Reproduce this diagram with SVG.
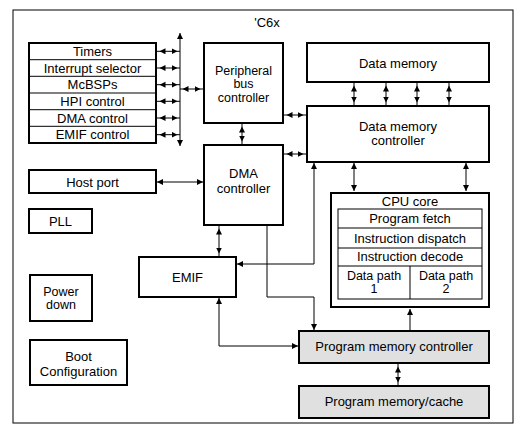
<svg xmlns="http://www.w3.org/2000/svg" width="531" height="435" viewBox="0 0 531 435">
<style>
text{font-family:"Liberation Sans",Arial,sans-serif;font-size:13px;fill:#000;text-anchor:middle}
.sm{font-size:12.5px}
.box{fill:#fff;stroke:#000;stroke-width:2}
.gbox{fill:#e0e0e0;stroke:#000;stroke-width:2}
.thin{fill:none;stroke:#000;stroke-width:1}
.cn line,.cn path{fill:none;stroke:#000;stroke-width:1}
</style>
<defs>
<marker id="ah" markerUnits="userSpaceOnUse" markerWidth="8" markerHeight="8" refX="6" refY="3" orient="auto-start-reverse"><path d="M0,0 L6,3 L0,6 z" fill="#000"/></marker>
<marker id="ag" markerUnits="userSpaceOnUse" markerWidth="10" markerHeight="8" refX="8.5" refY="3" orient="auto-start-reverse"><path d="M0,0 L6,3 L0,6 z" fill="#000"/></marker>
</defs>
<rect x="13" y="10" width="500" height="413" fill="#fff" stroke="#000" stroke-width="1"/>
<text x="267" y="27">'C6x</text>

<g id="peripherals">
<rect class="box" x="29" y="43" width="127" height="100"/>
<line class="thin" x1="29" y1="59.7" x2="156" y2="59.7"/>
<line class="thin" x1="29" y1="76.3" x2="156" y2="76.3"/>
<line class="thin" x1="29" y1="93" x2="156" y2="93"/>
<line class="thin" x1="29" y1="109.7" x2="156" y2="109.7"/>
<line class="thin" x1="29" y1="126.3" x2="156" y2="126.3"/>
<text x="92.5" y="56">Timers</text>
<text x="92.5" y="72.5">Interrupt selector</text>
<text x="92.5" y="89">McBSPs</text>
<text x="92.5" y="106">HPI control</text>
<text x="92.5" y="122.5">DMA control</text>
<text x="92.5" y="139">EMIF control</text>
</g>

<g id="pbc">
<rect class="box" x="204" y="43" width="79" height="80"/>
<text class="sm" x="243.5" y="74.5">Peripheral</text>
<text class="sm" x="243.5" y="88">bus</text>
<text class="sm" x="243.5" y="101.5">controller</text>
</g>

<g id="dma">
<rect class="box" x="204" y="145" width="79" height="80"/>
<text x="243.5" y="177.5">DMA</text>
<text x="243.5" y="192.5">controller</text>
</g>

<g id="hostport">
<rect class="box" x="29" y="170" width="127" height="23"/>
<text x="92.5" y="186.5">Host port</text>
</g>

<g id="pll">
<rect class="box" x="29" y="209" width="63" height="24"/>
<text x="60.5" y="225.5">PLL</text>
</g>

<g id="powerdown">
<rect class="box" x="30" y="275" width="62" height="46"/>
<text class="sm" x="61" y="295.5">Power</text>
<text class="sm" x="61" y="308.5">down</text>
</g>

<g id="boot">
<rect class="box" x="30" y="340" width="97" height="45"/>
<text x="78.5" y="360.5">Boot</text>
<text x="78.5" y="375.5">Configuration</text>
</g>

<g id="emif">
<rect class="box" x="139" y="257" width="97" height="40"/>
<text x="187.5" y="281.5">EMIF</text>
</g>

<g id="datamemory">
<rect class="box" x="307" y="43" width="182" height="39"/>
<text x="398" y="67.5">Data memory</text>
</g>

<g id="dmc">
<rect class="box" x="307" y="106" width="182" height="56"/>
<text x="398" y="131">Data memory</text>
<text x="398" y="144.5">controller</text>
</g>

<g id="cpu">
<rect class="box" x="331" y="193" width="158" height="114" stroke-width="3"/>
<rect class="thin" x="338" y="209" width="144" height="90"/>
<line class="thin" x1="338" y1="228" x2="482" y2="228"/>
<line class="thin" x1="338" y1="248" x2="482" y2="248"/>
<line class="thin" x1="338" y1="266" x2="482" y2="266"/>
<line class="thin" x1="410" y1="266" x2="410" y2="299"/>
<text x="410" y="206">CPU core</text>
<text x="410" y="222.5">Program fetch</text>
<text x="410" y="242.5">Instruction dispatch</text>
<text x="410" y="261">Instruction decode</text>
<text class="sm" x="374" y="279.5">Data path</text>
<text class="sm" x="374" y="293">1</text>
<text class="sm" x="446" y="279.5">Data path</text>
<text class="sm" x="446" y="293">2</text>
</g>

<g id="pmc">
<rect class="gbox" x="299" y="331" width="190" height="32"/>
<text x="394" y="351">Program memory controller</text>
</g>

<g id="pmcache">
<rect class="gbox" x="299" y="386" width="190" height="32"/>
<text x="394" y="406">Program memory/cache</text>
</g>

<g id="connectors" class="cn">
<line x1="180" y1="33" x2="180" y2="146" marker-start="url(#ah)" marker-end="url(#ah)"/>
<line x1="157" y1="51.3" x2="180" y2="51.3" marker-start="url(#ag)" marker-end="url(#ag)"/>
<line x1="157" y1="68" x2="180" y2="68" marker-start="url(#ag)" marker-end="url(#ag)"/>
<line x1="157" y1="84.7" x2="180" y2="84.7" marker-start="url(#ag)" marker-end="url(#ag)"/>
<line x1="157" y1="101.3" x2="180" y2="101.3" marker-start="url(#ag)" marker-end="url(#ag)"/>
<line x1="157" y1="118" x2="180" y2="118" marker-start="url(#ag)" marker-end="url(#ag)"/>
<line x1="157" y1="134.7" x2="180" y2="134.7" marker-start="url(#ag)" marker-end="url(#ag)"/>
<line x1="180" y1="89" x2="203" y2="89" marker-start="url(#ag)" marker-end="url(#ag)"/>
<line x1="242" y1="124" x2="242" y2="144" marker-start="url(#ag)" marker-end="url(#ag)"/>
<line x1="157" y1="182" x2="203" y2="182" marker-start="url(#ah)" marker-end="url(#ah)"/>
<line x1="219" y1="226" x2="219" y2="256" marker-start="url(#ag)" marker-end="url(#ag)"/>
<path d="M237,264 H314 V163" marker-start="url(#ah)" marker-end="url(#ah)"/>
<path d="M267,226 V297 H314 V330" marker-end="url(#ah)"/>
<path d="M219,298 V346 H298" marker-start="url(#ah)" marker-end="url(#ah)"/>
<line x1="354" y1="83" x2="354" y2="105" marker-start="url(#ag)" marker-end="url(#ag)"/>
<line x1="386" y1="83" x2="386" y2="105" marker-start="url(#ag)" marker-end="url(#ag)"/>
<line x1="417" y1="83" x2="417" y2="105" marker-start="url(#ag)" marker-end="url(#ag)"/>
<line x1="449" y1="83" x2="449" y2="105" marker-start="url(#ag)" marker-end="url(#ag)"/>
<line x1="284" y1="115" x2="306" y2="115" marker-start="url(#ag)" marker-end="url(#ag)"/>
<line x1="284" y1="154" x2="306" y2="154" marker-start="url(#ag)" marker-end="url(#ag)"/>
<line x1="354" y1="163" x2="354" y2="191" marker-start="url(#ah)" marker-end="url(#ah)"/>
<line x1="466" y1="163" x2="466" y2="191" marker-start="url(#ah)" marker-end="url(#ah)"/>
<line x1="410" y1="330" x2="410" y2="309" marker-end="url(#ah)"/>
<line x1="398" y1="364" x2="398" y2="385" marker-start="url(#ag)" marker-end="url(#ag)"/>
</g>
</svg>
